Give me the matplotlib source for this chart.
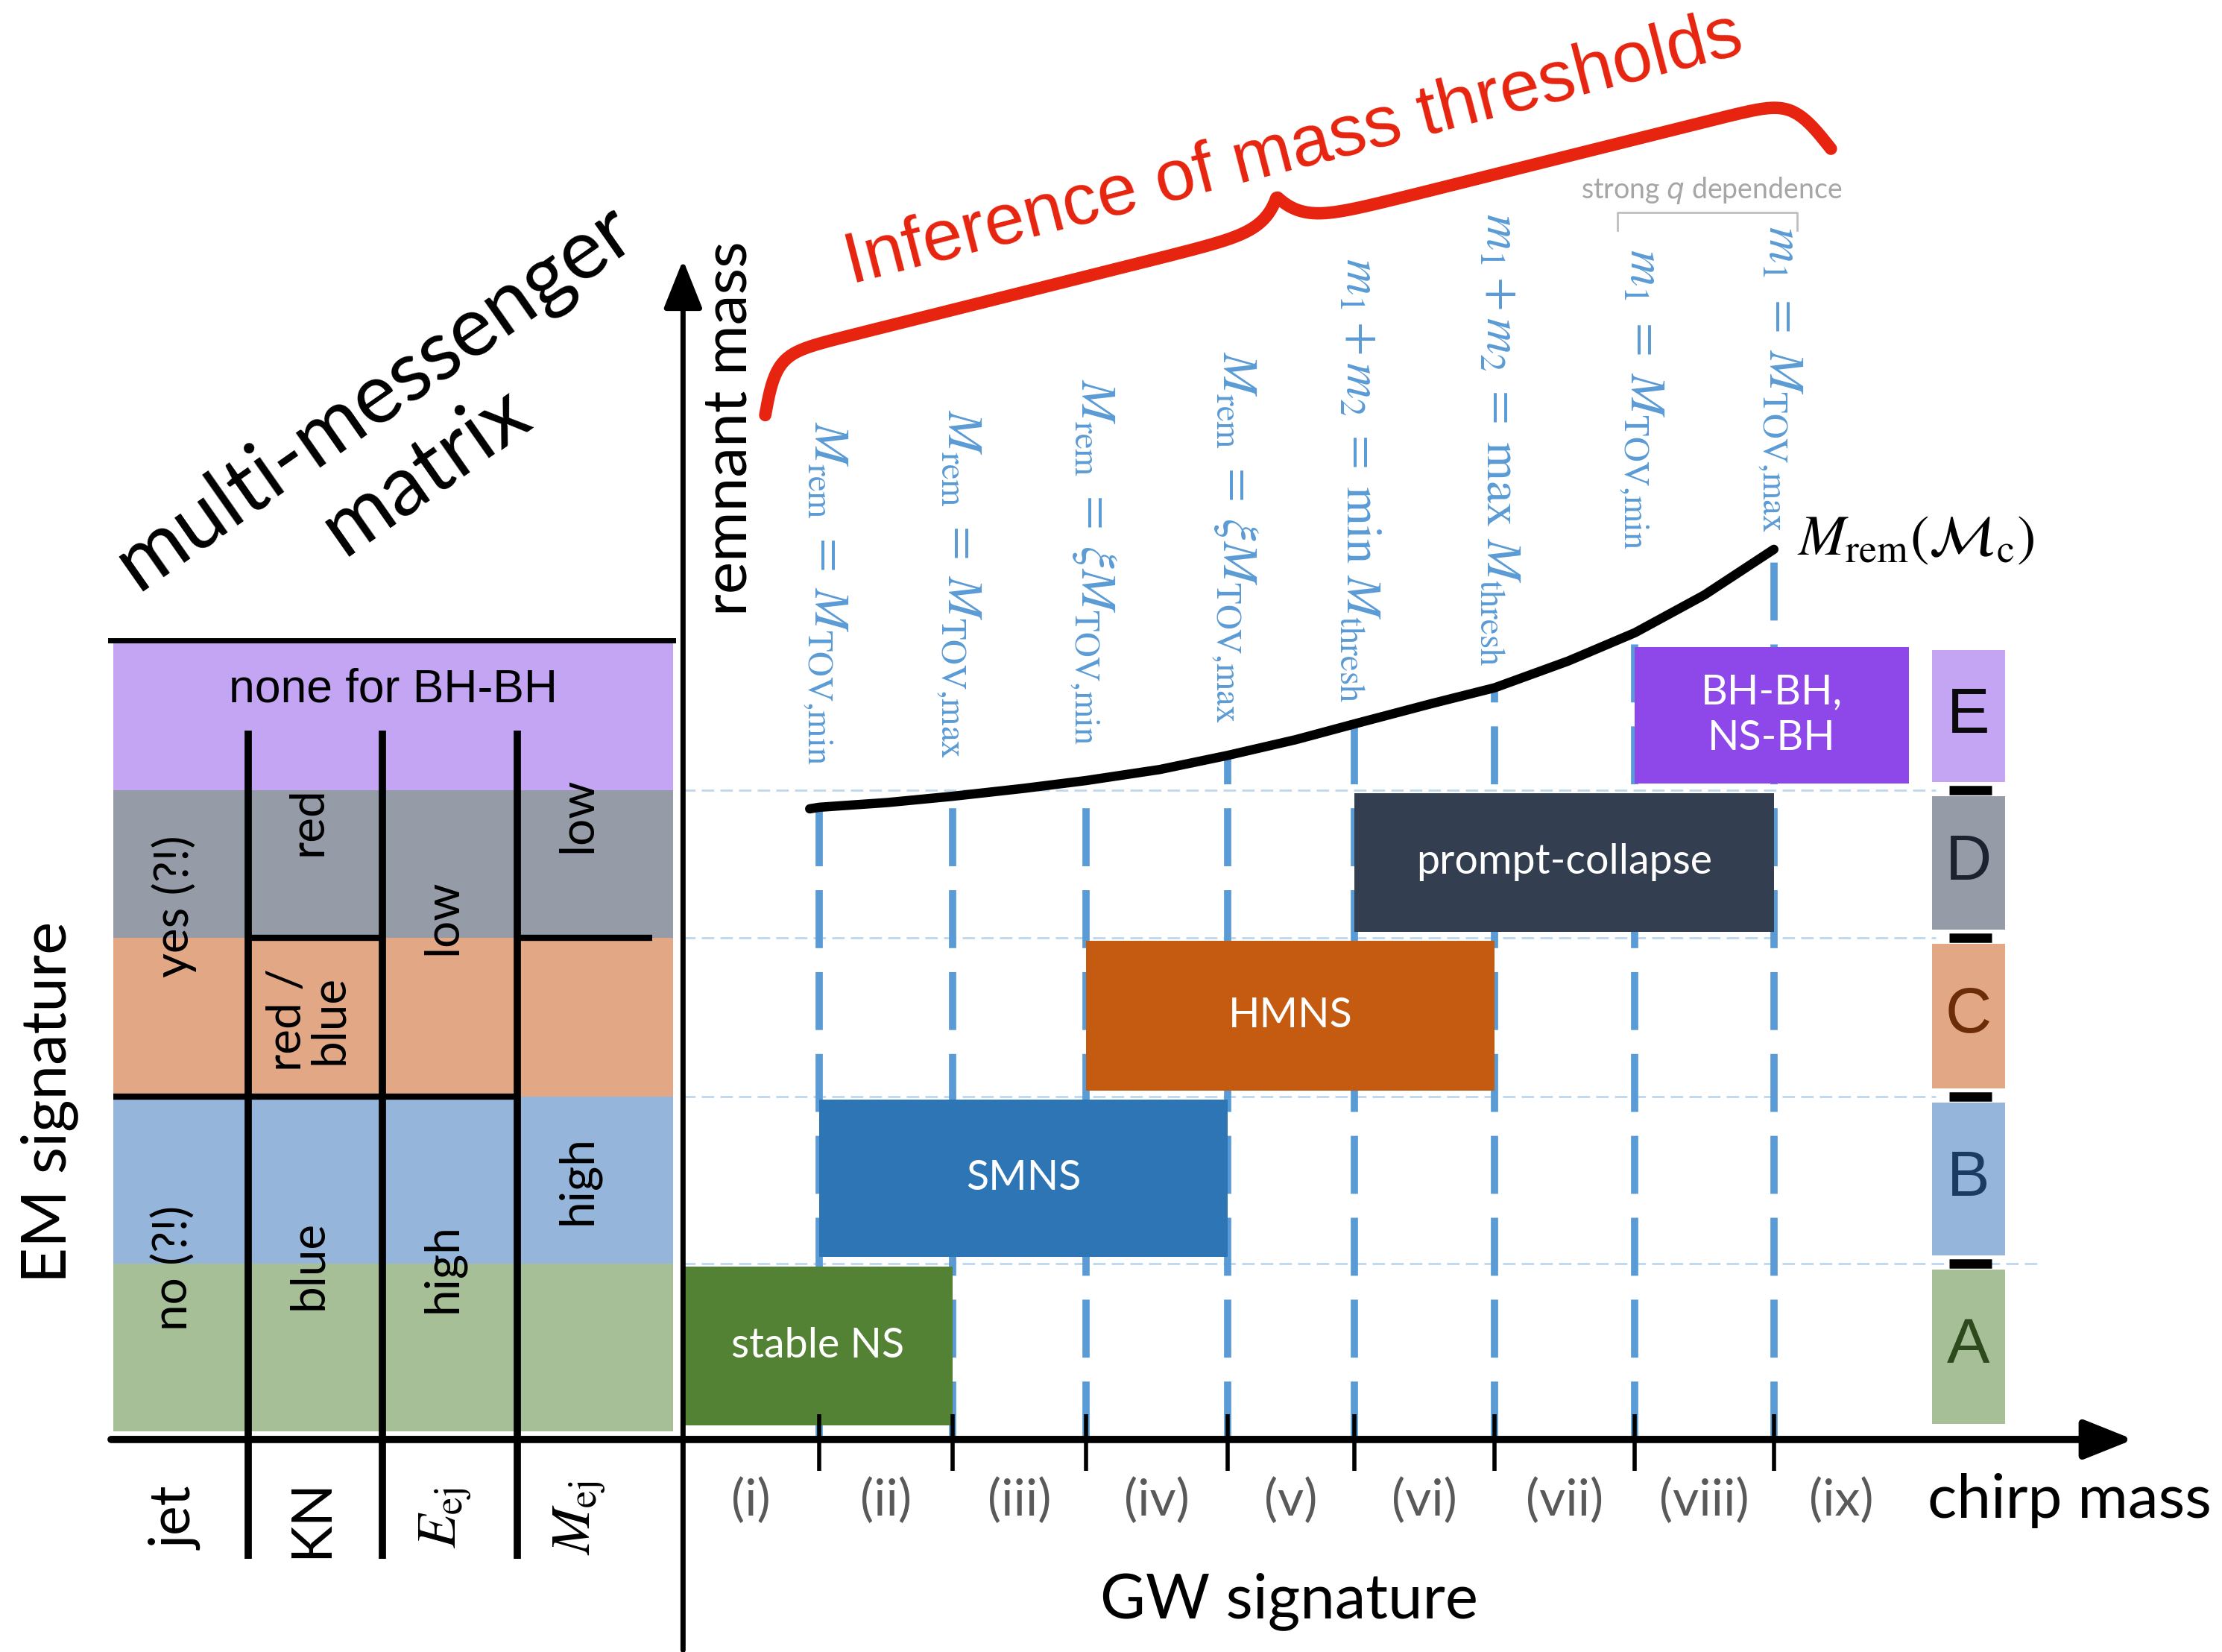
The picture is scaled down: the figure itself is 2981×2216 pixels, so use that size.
import numpy as np
import matplotlib.pyplot as plt
from matplotlib.patches import Rectangle

plt.rcParams["mathtext.fontset"] = "stix"
SANS = "Lato"

# chirp-mass regions and the mass thresholds that separate them
regions = ["(i)", "(ii)", "(iii)", "(iv)", "(v)", "(vi)", "(vii)", "(viii)", "(ix)"]
thresholds = [1.0, 1.98, 2.96, 4.0, 4.93, 5.96, 6.99, 8.01]
threshold_labels = [
    r"$M_{\rm rem} \;=\; M_{\mathrm{TOV{,}min}}$",
    r"$M_{\rm rem} \;=\; M_{\mathrm{TOV{,}max}}$",
    r"$M_{\rm rem} \;=\; \xi M_{\mathrm{TOV{,}min}}$",
    r"$M_{\rm rem} \;=\; \xi M_{\mathrm{TOV{,}max}}$",
    r"$m_1 + m_2 \;=\; \min\ M_{\rm thresh}$",
    r"$m_1 + m_2 \;=\; \max\ M_{\rm thresh}$",
    r"$m_1 \;=\; M_{\mathrm{TOV{,}min}}$",
    r"$m_1 \;=\; M_{\mathrm{TOV{,}max}}$",
]

# remnant mass as a function of chirp mass
curve_mc = [0.93, 1.0, 1.5, 1.98, 2.5, 2.96, 3.5, 4.0, 4.5, 4.93, 5.5, 5.96, 6.5, 6.99, 7.5, 8.01]
curve_mrem = [4.01, 4.02, 4.05, 4.09, 4.14, 4.19, 4.26, 4.35, 4.45, 4.55, 4.68, 4.78, 4.95, 5.13, 5.37, 5.66]

# outcome classes (rows) and the remnant types spanning the regions
classes = ["A", "B", "C", "D", "E"]
row_edges = [0.05, 1.12, 2.18, 3.19, 4.13, 5.06]
remnants = ["stable NS", "SMNS", "HMNS", "prompt-collapse", "BH-BH,\nNS-BH"]
remnant_from = [0, 1, 3, 5, 7]
remnant_to = [2, 4, 6, 8, 9]

# EM signature matrix
em_columns = ["jet", "KN", r"$E_{\rm ej}$", r"$M_{\rm ej}$"]
em_cells = [(0, "yes (?!)"), (0, "no (?!)"),
            (1, "red"), (1, "red /\nblue"), (1, "blue"),
            (2, "low"), (2, "high"),
            (3, "low"), (3, "high")]

row_colors = ["#A7BF96", "#96B5DB", "#E2A886", "#959BA7", "#C3A5F3"]
letter_colors = ["#2C4A1C", "#1B3B63", "#6B2C07", "#1C2230", "#0A0A0A"]
bar_colors = ["#548235", "#2E75B6", "#C55A11", "#333F50", "#8E48EA"]
thr_color = "#5B9BD5"
red = "#E6240F"

W, H = 1568, 1166
fig = plt.figure(figsize=(29.81, 22.16), dpi=100)

bg = fig.add_axes([0, 0, 1, 1])
bg.set_xlim(0, W)
bg.set_ylim(H, 0)
bg.axis("off")


def layer(x0, y0, ux, uy):
    a = fig.add_axes([0, 0, 1, 1])
    a.set_xlim(-x0 / ux, (W - x0) / ux)
    a.set_ylim(-(H - y0) / uy, y0 / uy)
    a.axis("off")
    return a


mx = layer(80, 1016, 95, 111)
ax = layer(482, 1016, 96.1, 111)

# ---- EM matrix ----
for k in range(5):
    mx.add_patch(Rectangle((0, row_edges[k]), 4.16, row_edges[k + 1] - row_edges[k],
                           color=row_colors[k], lw=0, zorder=1))
mx.plot([-0.02, 4.16], [5.08, 5.08], color="k", lw=5)
mx.vlines([1, 2, 3], -0.76, 4.51, color="k", lw=7, zorder=3)
mx.hlines(row_edges[2], 0, 3, color="k", lw=6, zorder=3)
mx.hlines([row_edges[3], row_edges[3]], [1, 3], [2, 4.0], color="k", lw=6, zorder=3)

cell_y = [3.39, 1.09, 3.93, 2.67, 1.11, 3.32, 1.09, 3.97, 1.65]
for (c, txt), y in zip(em_cells, cell_y):
    mx.text(c + 0.45, y, txt, rotation=90, ha="center", va="center",
            fontsize=46, family=SANS, linespacing=0.95, zorder=4)
for c, name in enumerate(em_columns):
    mx.text(c + 0.47, -0.5, name, rotation=90, ha="center", va="center",
            fontsize=54, family=SANS)
mx.text(2.08, 4.77, "none for BH-BH", ha="center", va="center",
        fontsize=45, family="Liberation Sans")
bg.text(35, 778, "EM signature", rotation=90, ha="center", va="center",
        fontsize=60, family=SANS)
bg.text(282, 306, "multi-messenger\nmatrix", rotation=35, ha="center", va="center",
        fontsize=81, family=SANS, linespacing=1.2, multialignment="center")

# ---- main diagram ----
bounds = [0.0] + thresholds + [9.0]

ax.hlines(row_edges[1:5], 0, [9.95, 9.2, 9.2, 9.2], color="#BDD7EE", lw=2,
          linestyles=(0, (6, 3)), zorder=1)

tops = [curve_mrem[curve_mc.index(t)] for t in thresholds]
ax.vlines(thresholds, 0, tops, color=thr_color, lw=7, linestyles=(0, (8, 3.3)), zorder=2)

for i, name in enumerate(remnants):
    x0, x1 = bounds[remnant_from[i]], bounds[remnant_to[i]]
    y0, y1 = row_edges[i] + 0.04, row_edges[i + 1] - 0.02
    ax.add_patch(Rectangle((x0, y0), x1 - x0, y1 - y0, color=bar_colors[i], lw=0, zorder=3))
    ax.text((x0 + x1) / 2, (y0 + y1) / 2, name, ha="center", va="center", color="white",
            fontsize=40, family=SANS, linespacing=1.25, zorder=5)

ax.plot(curve_mc, curve_mrem, color="k", lw=9, solid_capstyle="round",
        solid_joinstyle="round", zorder=4)
ax.text(8.18, 5.73, r"$M_{\rm rem}(\mathcal{M}_{\rm c})$", ha="left", va="center", fontsize=55)

label_bottom = [4.29, 4.33, 4.42, 4.56, 4.69, 4.92, 5.66, 5.77]
for t, lab, yb in zip(thresholds, threshold_labels, label_bottom):
    ax.text(t + 0.05, yb, lab, rotation=270, ha="center", va="bottom",
            color=thr_color, fontsize=48)

# class letters on the right
for k, letter in enumerate(classes):
    y0, y1 = row_edges[k] + 0.05, row_edges[k + 1] - 0.04
    ax.add_patch(Rectangle((9.17, y0), 0.54, y1 - y0, color=row_colors[k], lw=0, zorder=3))
    ax.text(9.44, (y0 + y1) / 2, letter, ha="center", va="center", color=letter_colors[k],
            fontsize=62, family="Liberation Sans", zorder=5)
ax.hlines(row_edges[1:5], 9.30, 9.61, color="k", lw=9, zorder=4)

# axes with arrows
ax.annotate("", xy=(10.65, 0), xytext=(-4.2, 0),
            arrowprops=dict(arrowstyle="-|>,head_length=1.0,head_width=0.4", color="k",
                            lw=7, shrinkA=0, shrinkB=0, mutation_scale=40), zorder=6)
ax.annotate("", xy=(0, 7.5), xytext=(0, -1.34),
            arrowprops=dict(arrowstyle="-|>,head_length=1.0,head_width=0.4", color="k",
                            lw=5, shrinkA=0, shrinkB=0, mutation_scale=40), zorder=6)
ax.vlines(thresholds, -0.2, 0.16, color="k", lw=4, zorder=6)

for i, r in enumerate(regions):
    ax.text((bounds[i] + bounds[i + 1]) / 2, -0.39, r, ha="center", va="center",
            color="#595959", fontsize=49, family=SANS)
ax.text(9.14, -0.39, "chirp mass", ha="left", va="center", fontsize=59, family=SANS)
ax.text(4.45, -1.03, "GW signature", ha="center", va="center", fontsize=60, family=SANS)
ax.text(0.34, 6.43, "remnant mass", rotation=90, ha="center", va="center",
        fontsize=59, family=SANS)

# strong q dependence bracket
ax.plot([6.86, 6.86, 8.18, 8.18], [7.69, 7.80, 7.80, 7.69], color="#BFBFBF", lw=2)
ax.text(7.55, 7.94, "strong $q$ dependence", ha="center", va="center", color="#A6A6A6",
        fontsize=27, family=SANS, math_fontfamily="dejavusans")

# curly brace over the thresholds
p0, p1 = np.array([540.0, 293.0]), np.array([1292.0, 105.0])
L = np.hypot(*(p1 - p0))
d = (p1 - p0) / L
n = np.array([d[1], -d[0]])
u = np.linspace(0, L, 800)
s = np.minimum(u, L - u)
v = 40 * np.tanh(s / 18) + 22 * np.exp(-(L / 2 - s) / 14)
pts = p0 + np.outer(u, d) + np.outer(v, n)
bg.plot(pts[:, 0], pts[:, 1], color=red, lw=12, solid_capstyle="round")
bg.text(913, 106, "Inference of mass thresholds", rotation=14.5, ha="center", va="center",
        color=red, fontsize=69.5, family="Liberation Sans")

fig.savefig("out.png", dpi=100)
